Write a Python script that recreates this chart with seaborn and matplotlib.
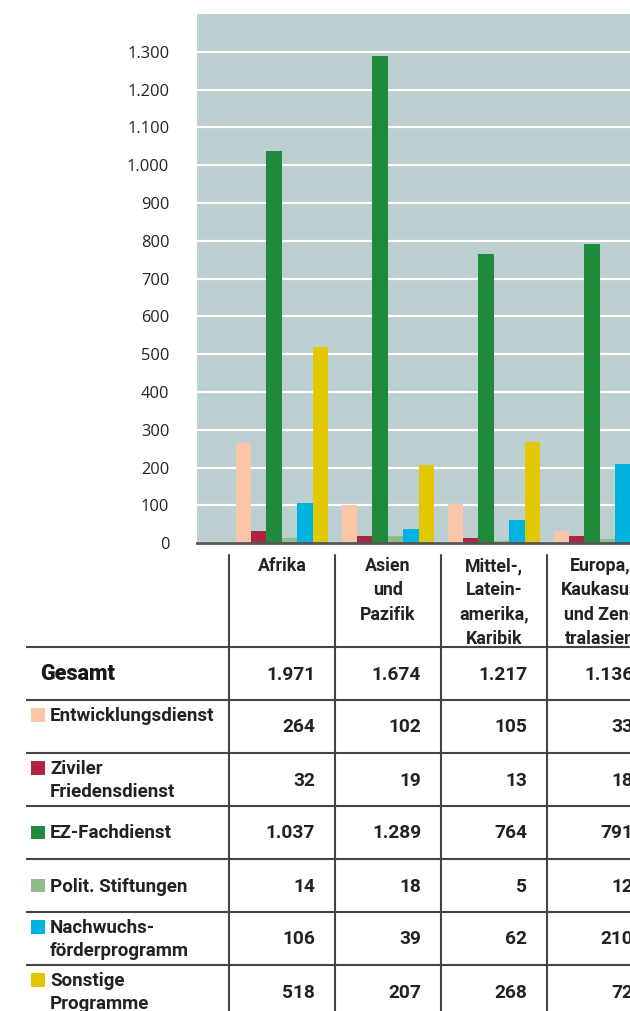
import matplotlib
matplotlib.use("Agg")
import matplotlib.pyplot as plt
from matplotlib.patches import Rectangle
from matplotlib.transforms import blended_transform_factory
from matplotlib.ticker import FuncFormatter, MultipleLocator
import seaborn as sns
import pandas as pd

# ---------------- data ----------------
regions = ["Afrika", "Asien und Pazifik", "Mittel-, Lateinamerika, Karibik",
           "Europa, Kaukasus und Zentralasien"]
region_headers = ["Afrika", "Asien\nund\nPazifik", "Mittel-,\nLatein-\namerika,\nKaribik",
                  "Europa,\nKaukasus\nund Zen-\ntralasien"]
programmes = ["Entwicklungsdienst", "Ziviler Friedensdienst", "EZ-Fachdienst",
              "Polit. Stiftungen", "Nachwuchsförderprogramm", "Sonstige Programme"]
programme_labels = ["Entwicklungsdienst\n ", "Ziviler\nFriedensdienst", "EZ-Fachdienst",
                    "Polit. Stiftungen", "Nachwuchs-\nförderprogramm", "Sonstige\nProgramme"]
entwicklungsdienst = [264, 102, 105, 33]
ziviler_friedensdienst = [32, 19, 13, 18]
ez_fachdienst = [1037, 1289, 764, 791]
polit_stiftungen = [14, 18, 5, 12]
nachwuchs = [106, 39, 62, 210]
sonstige = [518, 207, 268, 72]
series = [entwicklungsdienst, ziviler_friedensdienst, ez_fachdienst,
          polit_stiftungen, nachwuchs, sonstige]
colors = ["#F9C6A8", "#AE2443", "#21893B", "#92BB8C", "#00B3E1", "#E2C800"]

rows = []
for p, vals in zip(programmes, series):
    for r, v in zip(regions, vals):
        rows.append({"Region": r, "Programm": p, "Wert": v})
df = pd.DataFrame(rows)
totals = [sum(s[i] for s in series) for i in range(len(regions))]


def fmt(v):
    return f"{int(v):,}".replace(",", ".")


# ---------------- figure ----------------
sns.set_theme(style="white")
plt.rcParams["font.family"] = ["Open Sans", "DejaVu Sans"]
W, H = 630, 1011
fig = plt.figure(figsize=(W / 100, H / 100), dpi=100)
fig.patch.set_facecolor("white")

ax_left, ax_right, ax_top, ax_bottom = 197, 630, 14, 543.3
ax = fig.add_axes([ax_left / W, 1 - ax_bottom / H, (ax_right - ax_left) / W,
                   (ax_bottom - ax_top) / H])
sns.barplot(data=df, x="Region", y="Wert", hue="Programm", order=regions,
            hue_order=programmes, palette=colors, width=0.874, gap=0,
            saturation=1, linewidth=0, legend=False, ax=ax, errorbar=None)
ax.set_facecolor("#BBCED0")
ax.set_axisbelow(True)
ax.yaxis.set_major_locator(MultipleLocator(100))
ax.grid(axis="y", color="white", linewidth=1.6)
ax.grid(axis="x", visible=False)
ax.set_ylim(0, 1400)
ax.set_xlim(-0.801, 3.284)
ax.set_yticks(range(0, 1301, 100))
ax.yaxis.set_major_formatter(FuncFormatter(lambda v, p: fmt(v)))
ax.tick_params(axis="y", length=0, pad=20, labelsize=11.8, labelcolor="#222222")
ax.tick_params(axis="x", length=0, labelbottom=False)
ax.set_xlabel("")
ax.set_ylabel("")
for s in ["top", "right", "left"]:
    ax.spines[s].set_visible(False)
ax.spines["bottom"].set_color("#555555")
ax.spines["bottom"].set_linewidth(2)

# ---------------- table ----------------
tax = fig.add_axes([0, 0, 1, 1])
tax.set_xlim(0, W)
tax.set_ylim(H, 0)
tax.axis("off")
tr = blended_transform_factory(ax.transData, tax.transData)

cond = ["Roboto", "DejaVu Sans"]
line_c = "#444444"
header_top = 647
row_h = 53
n_rows = len(programmes) + 1
row_tops = [header_top + i * row_h for i in range(n_rows + 1)]

for y in row_tops:
    tax.plot([26, W], [y, y], color=line_c, lw=1.5, solid_capstyle="butt")
for i in range(len(regions)):
    tax.plot([i - 0.5, i - 0.5], [555, H], color=line_c, lw=1.5, transform=tr)
    tax.text(i, 557, region_headers[i], transform=tr, ha="center", va="top",
             family=cond, fontweight="bold", fontsize=12.8, color="#222222",
             linespacing=1.45)

# Gesamt row
yc = row_tops[0] + row_h / 2
tax.text(40, yc + 1, "Gesamt", ha="left", va="center", family=cond,
         fontweight="heavy", fontsize=15.5, color="#1a1a1a")
for i, t in enumerate(totals):
    tax.text(i + 0.5 - 0.185, yc + 2, fmt(t), transform=tr, ha="right", va="center",
             family=cond, fontweight="bold", fontsize=13.8, color="#222222")

for k, (lab, vals, c) in enumerate(zip(programme_labels, series, colors)):
    top = row_tops[k + 1]
    yc = top + row_h / 2
    two = "\n" in lab
    sq_c = yc - 11.5 if two else yc
    tax.add_patch(Rectangle((31, sq_c - 6.8), 13.6, 13.6, color=c, lw=0))
    tax.text(50, yc + 1, lab, ha="left", va="center", family=cond, fontweight="bold",
             fontsize=13.5, color="#222222", linespacing=1.42)
    for i, v in enumerate(vals):
        tax.text(i + 0.5 - 0.185, yc + 1, fmt(v), transform=tr, ha="right",
                 va="center", family=cond, fontweight="bold", fontsize=13.8,
                 color="#222222")

fig.savefig("out.png", dpi=100)
